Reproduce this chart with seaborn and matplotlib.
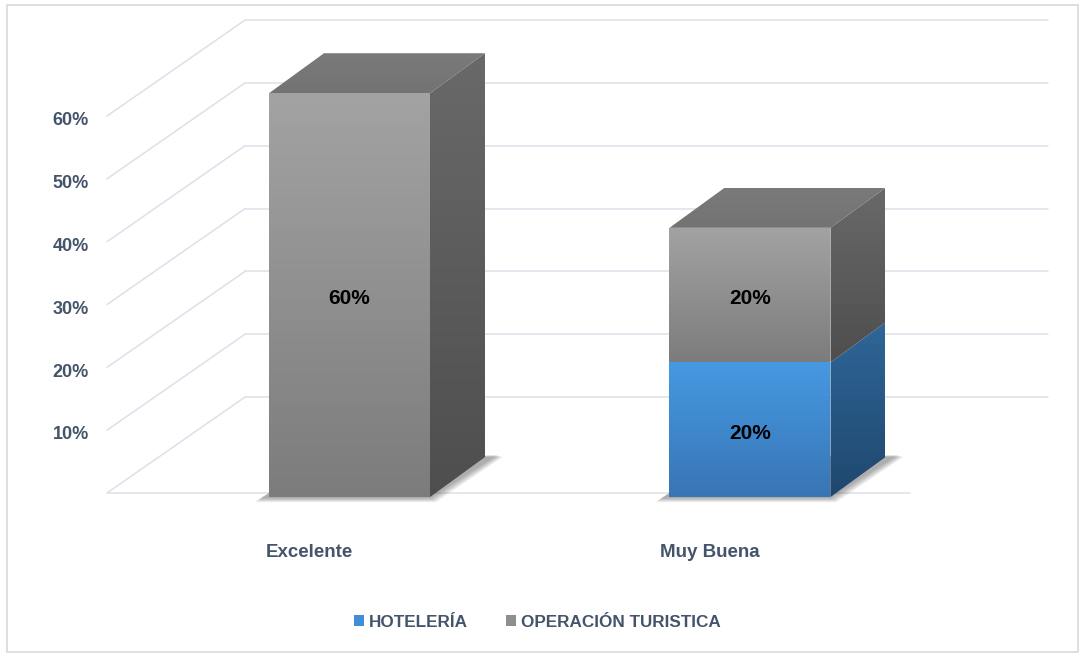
import numpy as np
import pandas as pd
import matplotlib
matplotlib.use("Agg")
import matplotlib.pyplot as plt
from matplotlib.patches import Polygon, Patch, Rectangle
from matplotlib.colors import LinearSegmentedColormap
import seaborn as sns

# data
categories = ["Excelente", "Muy Buena"]
hoteleria = [0, 20]
operacion_turistica = [60, 20]
series_names = ["HOTELERÍA", "OPERACIÓN TURISTICA"]
grid_values = [0, 10, 20, 30, 40, 50, 60]
tick_values = [10, 20, 30, 40, 50, 60]

TEXT_COLOR = "#44546A"
GRID_COLOR = "#DCE0E8"

# 3d look (in data units)
BAR_W = 0.402
BAR_DX, BAR_DV = 0.1373, 5.94
WALL_X0, WALL_X1 = -0.6055, 1.3995
WALL_DX, WALL_DV = 0.3446, 14.26
WALL_BASE, WALL_SCALE = 0.594, 0.9336
PX_X, PX_V = 1 / 400.5, 1 / 6.73  # one pixel in data units

sns.set_theme(style="white")
plt.rcParams["font.family"] = ["Liberation Sans", "DejaVu Sans"]

fig = plt.figure(figsize=(10.83, 6.59), dpi=100)
ax = fig.add_axes([0, 0, 1, 1])
ax.set_axis_off()

df = pd.DataFrame({"cat": categories, "hot": hoteleria, "op": operacion_turistica})
df["total"] = df["hot"] + df["op"]

sns.barplot(data=df, x="cat", y="total", color="#999999", width=BAR_W,
            saturation=1, errorbar=None, ax=ax)
sns.barplot(data=df, x="cat", y="hot", color="#4597E0", width=BAR_W,
            saturation=1, errorbar=None, ax=ax)

n = len(categories)
gray_patches = ax.patches[:n]
blue_patches = ax.patches[n:2 * n]
# gray patches become the upper segment only
for p, h, o in zip(gray_patches, hoteleria, operacion_turistica):
    p.set_y(h)
    p.set_height(o)


def wall_front(t):
    return WALL_BASE + WALL_SCALE * t


def gradient_fill(verts, top_color, bottom_color, z):
    poly = Polygon(verts, closed=True, facecolor="none", edgecolor="none")
    ax.add_patch(poly)
    xs = [v[0] for v in verts]
    ys = [v[1] for v in verts]
    cmap = LinearSegmentedColormap.from_list("g", [bottom_color, top_color])
    grad = np.linspace(0, 1, 256).reshape(-1, 1)
    im = ax.imshow(grad, cmap=cmap, origin="lower", aspect="auto",
                   extent=(min(xs), max(xs), min(ys), max(ys)),
                   zorder=z, interpolation="bilinear")
    im.set_clip_path(poly)


# walls: back gridlines, left diagonals, floor front edge
for t in grid_values:
    f = wall_front(t)
    b = f + WALL_DV
    ax.plot([WALL_X0 + WALL_DX, WALL_X1 + WALL_DX], [b, b], color=GRID_COLOR, lw=1.1, zorder=0.5)
    ax.plot([WALL_X0, WALL_X0 + WALL_DX], [f, b], color=GRID_COLOR, lw=1.1, zorder=0.5)
ax.plot([WALL_X0, WALL_X1], [wall_front(0), wall_front(0)], color=GRID_COLOR, lw=1.1, zorder=0.5)

for t in tick_values:
    ax.text(-0.6504, wall_front(t) - 0.7, f"{t}%", ha="right", va="center",
            fontsize=13, fontweight="bold", color=TEXT_COLOR)

for i, c in enumerate(categories):
    ax.text(i - 0.1, -8.2, c, ha="center", va="center", fontsize=13.5,
            fontweight="bold", color=TEXT_COLOR)

styles = {
    "gray": dict(front=("#A3A3A3", "#7C7C7C"), side=("#696969", "#4E4E4E")),
    "blue": dict(front=("#4699E2", "#3875B5"), side=("#2F6699", "#1F476D")),
}

for i in range(n):
    gp, bp = gray_patches[i], blue_patches[i]
    x0 = bp.get_x()
    x1 = x0 + bp.get_width()

    # soft shadow at the base, built from thin translucent layers
    for e in range(0, 7):
        ax.add_patch(Polygon([(x0 - (8 + e) * PX_X, -(1 + e * 0.7) * PX_V),
                              (x1 + e * PX_X, -(1 + e * 0.7) * PX_V),
                              (x1 + BAR_DX + (12 + e) * PX_X, BAR_DV + (2 - e * 0.3) * PX_V),
                              (x0 + BAR_DX, BAR_DV)],
                             closed=True, facecolor="#3A3A3A", edgecolor="none",
                             alpha=0.07, zorder=1.5))

    for p, key in [(bp, "blue"), (gp, "gray")]:
        y0 = p.get_y()
        y1 = y0 + p.get_height()
        p.set_facecolor("none")
        p.set_linewidth(0)
        if p.get_height() <= 0:
            continue
        st = styles[key]
        gradient_fill([(x0, y0), (x1, y0), (x1, y1), (x0, y1)], *st["front"], z=3)
        gradient_fill([(x1, y0), (x1 + BAR_DX, y0 + BAR_DV),
                       (x1 + BAR_DX, y1 + BAR_DV), (x1, y1)], *st["side"], z=2)
        val = p.get_height()
        ax.text((x0 + x1) / 2, (y0 + y1) / 2 - 0.5, f"{val:.0f}%", ha="center", va="center",
                fontsize=15, fontweight="bold", color="black", zorder=5)

    top = gp.get_y() + gp.get_height()
    gradient_fill([(x0, top), (x1, top), (x1 + BAR_DX, top + BAR_DV),
                   (x0 + BAR_DX, top + BAR_DV)], "#7A7A7A", "#737373", z=2.5)

ax.set_xlim(-0.8727, 1.8315)
ax.set_ylim(-24.07, 73.85)

# outer frame
fig.patches.append(Rectangle((7 / 1083, 7 / 659), 1071 / 1083, 647 / 659,
                             transform=fig.transFigure, fill=False,
                             edgecolor="#D9D9D9", lw=1.2))

handles = [Patch(facecolor="#3F8FD8", edgecolor="none"),
           Patch(facecolor="#8E8E8E", edgecolor="none")]
fig.legend(handles, series_names, loc="center", bbox_to_anchor=(0.496, 0.056),
           ncol=2, frameon=False, handlelength=0.6, handleheight=0.6,
           handletextpad=0.3, columnspacing=2.2, labelcolor=TEXT_COLOR,
           prop=dict(weight="bold", size=12.3))

fig.savefig("out.png", dpi=100)
